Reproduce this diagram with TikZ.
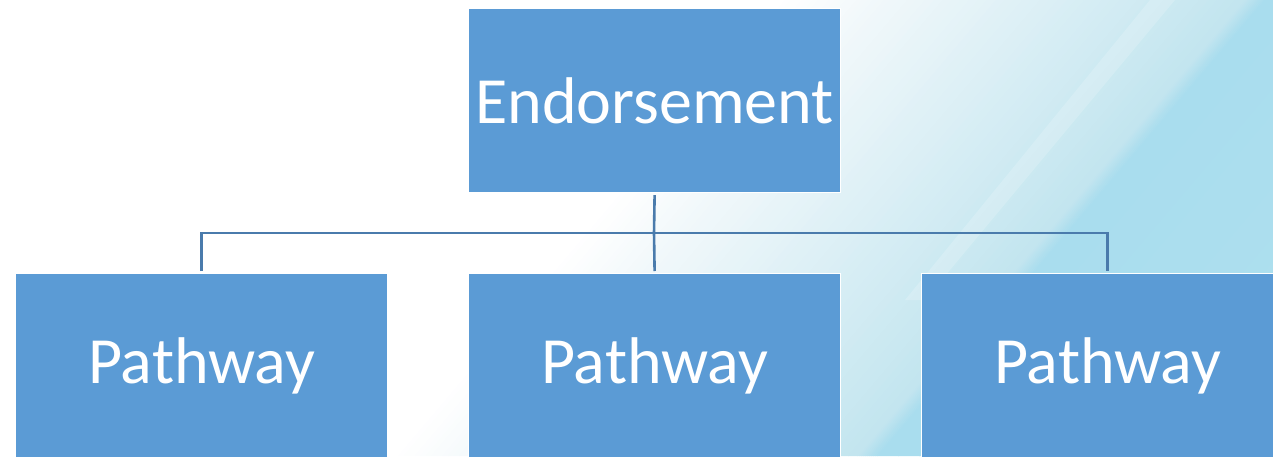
\documentclass[tikz,border=0pt]{standalone}
\usepackage{fontspec}
\setmainfont{Carlito}
\definecolor{boxblue}{HTML}{5B9BD5}
\definecolor{linkblue}{HTML}{4A7BAC}
\definecolor{bgA}{HTML}{EFF7FA}
\definecolor{bgB}{HTML}{C2E5EF}
\definecolor{bgC}{HTML}{A9DDEE}
\definecolor{bgD}{HTML}{B0E0EF}
\tikzset{
  orgbox/.style={draw=white, line width=1.2pt, fill=boxblue, text=white,
    minimum width=372pt, minimum height=184pt, inner sep=0pt,
    font=\fontsize{66}{66}\selectfont, anchor=north west},
  link/.style={draw=linkblue, line width=2.6pt}
}
\begin{document}
\begin{tikzpicture}[x=1pt,y=-1pt]
\useasboundingbox (0,0) rectangle (1273,456);
\begin{scope}
\clip (0,0) rectangle (1273,456);
\fill[white] (0,0) rectangle (1273,456);
% faint outer part of the gradient
\foreach \i in {0,...,19} {
  \pgfmathsetmacro\a{780+\i*5.5}
  \pgfmathsetmacro\b{\a+6}
  \pgfmathsetmacro\p{\i*5}
  \fill[bgA!\p!white] (\a,0) -- (\b,0) -- ({\b-387},456) -- ({\a-387},456) -- cycle;
}
% main gradient band
\foreach \i in {0,...,39} {
  \pgfmathsetmacro\a{890+\i*8.85}
  \pgfmathsetmacro\b{\a+9.4}
  \pgfmathsetmacro\p{\i*2.5}
  \fill[bgB!\p!bgA] (\a,0) -- (\b,0) -- ({\b-387},456) -- ({\a-387},456) -- cycle;
}
% soft edge into the saturated region
\foreach \i in {0,...,9} {
  \pgfmathsetmacro\a{1244+\i*2}
  \pgfmathsetmacro\b{\a+2.5}
  \pgfmathsetmacro\p{\i*10}
  \fill[bgC!\p!bgB] (\a,0) -- (\b,0) -- ({\b-387},456) -- ({\a-387},456) -- cycle;
}
% saturated region
\foreach \i in {0,...,19} {
  \pgfmathsetmacro\a{1264+\i*21}
  \pgfmathsetmacro\b{\a+22}
  \pgfmathsetmacro\p{\i*5}
  \fill[bgD!\p!bgC] (\a,0) -- (\b,0) -- ({\b-387},456) -- ({\a-387},456) -- cycle;
}
% faint light streak
\fill[white, opacity=0.18] (1150,0) -- (1175,0) -- (925,300) -- (905,300) -- cycle;
\node[orgbox] (top) at (468,8) {Endorsement};
\node[orgbox] (p1) at (15,273) {Pathway};
\node[orgbox] (p2) at (468,273) {Pathway};
\node[orgbox] (p3) at (921,273) {Pathway};
\coordinate (bus) at (654,233);
\draw[link] ([yshift=-2pt]top.south) -- (bus);
\draw[link] ([yshift=2pt]p1.north) |- (bus) -| ([yshift=2pt]p3.north);
\draw[link] (bus) -- ([yshift=2pt]p2.north);
\end{scope}
\end{tikzpicture}
\end{document}
